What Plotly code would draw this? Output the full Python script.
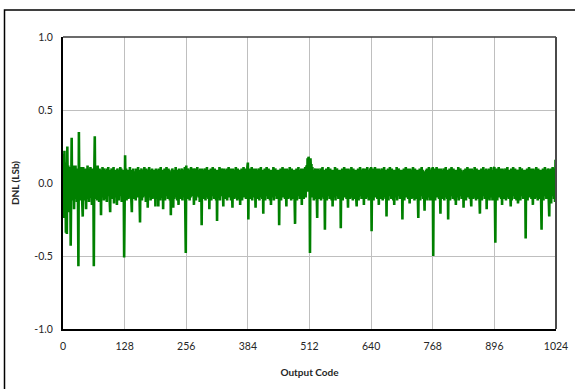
import plotly.graph_objects as go

# DNL values (LSb) per output code, in 128-code segments
dnl_000_127 = [
    -0.05, 0.20, -0.24, 0.22, -0.12, 0.09, -0.34, 0.14, -0.35, 0.25, -0.10, 0.12, -0.20, 0.08, -0.14, 0.11,
    -0.43, 0.10, 0.31, -0.12, 0.07, -0.09, 0.12, -0.18, 0.05, -0.11, 0.12, -0.08, 0.10, -0.13, 0.06, -0.07,
    -0.57, 0.35, -0.10, 0.09, -0.12, 0.11, -0.06, 0.10, -0.14, -0.23, 0.11, -0.09, 0.08, -0.12, 0.10, -0.05,
    -0.18, 0.09, -0.11, 0.12, -0.07, 0.10, -0.13, 0.06, -0.10, 0.11, -0.08, 0.09, -0.15, 0.10, -0.06, 0.08,
    -0.57, 0.07, 0.32, -0.11, 0.10, -0.08, 0.09, -0.12, 0.12, -0.06, 0.08, -0.13, 0.10, -0.09, 0.07, -0.22,
    0.09, -0.10, 0.11, -0.07, 0.08, -0.12, 0.10, -0.05, 0.09, -0.11, 0.07, -0.13, 0.10, -0.08, 0.11, -0.09,
    0.06, -0.12, -0.20, 0.09, -0.07, 0.10, -0.11, 0.08, -0.09, 0.11, -0.14, 0.07, -0.08, 0.09, -0.10, 0.08,
    -0.15, 0.10, -0.07, 0.09, -0.12, 0.08, -0.09, 0.11, -0.06, 0.10, -0.13, 0.07, -0.10, 0.09, 0.05, -0.51,
]
dnl_128_255 = [
    0.08, 0.19, -0.09, 0.10, -0.12, 0.07, -0.08, 0.09, -0.11, 0.06, -0.10, 0.11, -0.07, 0.08, -0.12, -0.20,
    0.09, -0.08, 0.10, -0.11, 0.07, -0.09, 0.08, -0.12, 0.10, -0.06, 0.09, -0.10, 0.11, -0.08, 0.07, -0.11,
    -0.27, 0.09, -0.07, 0.10, -0.12, 0.08, -0.10, 0.09, -0.06, 0.11, -0.09, 0.07, -0.13, 0.10, -0.08, 0.09,
    -0.17, 0.08, -0.10, 0.11, -0.07, 0.09, -0.12, 0.06, -0.09, 0.10, -0.11, 0.08, -0.06, 0.09, -0.10, 0.07,
    -0.16, 0.10, -0.08, 0.09, -0.11, 0.07, -0.16, 0.10, -0.09, 0.08, -0.12, 0.11, -0.07, 0.09, -0.10, 0.06,
    -0.18, 0.09, -0.08, 0.10, -0.12, 0.07, -0.09, 0.11, -0.06, 0.08, -0.11, 0.10, -0.08, 0.09, -0.12, 0.07,
    -0.22, 0.08, -0.09, 0.10, -0.07, -0.17, 0.09, -0.11, 0.08, -0.10, 0.11, -0.06, 0.09, -0.12, 0.07, -0.08,
    -0.15, 0.10, -0.09, 0.08, -0.11, 0.09, -0.07, 0.10, -0.12, 0.08, -0.10, 0.09, -0.06, 0.11, -0.09, -0.48,
]
dnl_256_383 = [
    0.12, -0.08, 0.09, -0.11, 0.10, -0.07, 0.08, -0.12, 0.09, -0.10, 0.11, -0.06, 0.08, -0.09, 0.10, -0.11,
    -0.15, 0.09, -0.07, 0.10, -0.12, 0.08, -0.09, 0.11, -0.06, 0.09, -0.10, 0.08, -0.13, 0.10, -0.08, 0.07,
    -0.29, 0.10, -0.09, 0.08, -0.11, 0.09, -0.07, 0.10, -0.12, 0.08, -0.10, 0.11, -0.06, 0.09, -0.11, 0.08,
    -0.18, 0.09, -0.08, 0.10, -0.12, 0.07, -0.09, 0.11, -0.07, 0.08, -0.11, 0.10, -0.09, 0.07, -0.12, 0.09,
    -0.26, 0.08, -0.10, 0.09, -0.07, 0.11, -0.12, 0.08, -0.09, 0.10, -0.06, 0.09, -0.11, -0.16, 0.10, -0.08,
    0.09, -0.11, 0.07, -0.09, 0.10, -0.12, 0.08, -0.07, 0.11, -0.10, 0.09, -0.08, 0.10, -0.12, 0.07, -0.09,
    -0.17, 0.10, -0.08, 0.09, -0.11, 0.07, -0.10, 0.11, -0.06, 0.08, -0.12, 0.10, -0.09, 0.07, -0.11, 0.09,
    -0.15, 0.08, -0.09, 0.10, -0.12, 0.07, -0.08, 0.11, -0.10, 0.09, -0.07, 0.10, -0.11, 0.08, -0.09, 0.11,
]
dnl_384_511 = [
    0.14, -0.25, 0.09, -0.08, 0.10, -0.11, 0.07, -0.09, 0.11, -0.12, 0.08, -0.07, 0.10, -0.10, 0.09, -0.08,
    -0.17, 0.10, -0.09, 0.08, -0.11, 0.09, -0.07, 0.10, -0.12, 0.08, -0.10, 0.11, -0.06, 0.09, -0.11, 0.07,
    -0.21, 0.09, -0.08, 0.10, -0.12, 0.07, -0.09, 0.11, -0.07, 0.08, -0.11, 0.10, -0.09, 0.07, -0.12, 0.09,
    -0.15, 0.08, -0.10, 0.09, -0.07, 0.11, -0.12, 0.08, -0.09, 0.10, -0.06, 0.09, -0.11, 0.08, -0.10, 0.07,
    0.09, -0.29, 0.08, -0.09, 0.10, -0.12, 0.07, -0.08, 0.11, -0.10, 0.09, -0.07, 0.10, -0.11, 0.08, -0.09,
    -0.16, 0.10, -0.08, 0.09, -0.11, 0.07, -0.10, 0.11, -0.06, 0.08, -0.12, 0.10, -0.09, 0.07, -0.11, 0.09,
    0.07, -0.10, -0.28, 0.09, -0.08, 0.10, -0.12, 0.08, -0.09, 0.11, -0.07, 0.09, -0.11, 0.08, -0.10, 0.10,
    -0.15, 0.09, -0.08, 0.10, -0.11, 0.07, -0.09, 0.11, -0.10, 0.08, 0.12, -0.06, 0.17, 0.10, 0.18, 0.15,
]
dnl_512_639 = [
    0.16, -0.48, 0.17, 0.09, 0.13, -0.08, 0.11, -0.10, 0.09, -0.12, 0.08, -0.07, 0.10, -0.11, 0.09, -0.08,
    -0.24, 0.10, -0.09, 0.08, -0.11, 0.09, -0.07, 0.10, -0.12, 0.08, -0.10, 0.11, -0.06, 0.09, -0.11, 0.07,
    -0.32, 0.09, -0.08, 0.10, -0.12, 0.07, -0.09, 0.11, -0.07, 0.08, -0.11, 0.10, -0.09, 0.07, -0.12, 0.09,
    -0.16, 0.08, -0.10, 0.09, -0.07, 0.11, -0.12, 0.08, -0.09, 0.10, -0.06, 0.09, -0.11, 0.08, -0.10, 0.07,
    0.09, -0.31, 0.08, -0.09, 0.10, -0.12, 0.07, -0.08, 0.11, -0.10, 0.09, -0.07, 0.10, -0.11, 0.08, -0.09,
    -0.17, 0.10, -0.08, 0.09, -0.11, 0.07, -0.10, 0.11, -0.06, 0.08, -0.12, 0.10, -0.09, 0.07, -0.11, 0.09,
    0.07, -0.10, -0.16, 0.09, -0.08, 0.10, -0.12, 0.08, -0.09, 0.11, -0.07, 0.09, -0.11, 0.08, -0.10, 0.10,
    0.08, -0.15, 0.09, -0.08, 0.10, -0.11, 0.07, -0.09, 0.11, -0.10, 0.08, -0.12, 0.09, -0.07, 0.10, -0.09,
]
dnl_640_767 = [
    0.11, -0.33, 0.09, -0.08, 0.10, -0.12, 0.07, -0.09, 0.11, -0.10, 0.08, -0.07, 0.10, -0.11, 0.09, -0.08,
    -0.15, 0.10, -0.09, 0.08, -0.11, 0.09, -0.07, 0.10, -0.12, 0.08, -0.10, 0.11, -0.06, 0.09, -0.11, 0.07,
    -0.23, 0.09, -0.08, 0.10, -0.12, 0.07, -0.09, 0.11, -0.07, 0.08, -0.11, 0.10, -0.09, 0.07, -0.12, 0.09,
    -0.15, 0.08, -0.10, 0.09, -0.07, 0.11, -0.12, 0.08, -0.09, 0.10, -0.06, 0.09, -0.11, 0.08, -0.10, 0.07,
    0.09, -0.25, 0.08, -0.09, 0.10, -0.12, 0.07, -0.08, 0.11, -0.10, 0.09, -0.07, 0.10, -0.11, 0.08, -0.09,
    -0.14, 0.10, -0.08, 0.09, -0.11, 0.07, -0.10, 0.11, -0.06, 0.08, -0.12, 0.10, -0.09, 0.07, -0.11, 0.09,
    0.07, -0.10, -0.24, 0.09, -0.08, 0.10, -0.12, 0.08, -0.09, 0.11, -0.07, 0.09, -0.11, 0.08, -0.10, -0.19,
    0.08, -0.11, 0.09, -0.08, 0.10, -0.12, 0.07, -0.09, 0.11, -0.10, 0.08, -0.12, 0.09, -0.07, 0.10, -0.09,
]
dnl_768_895 = [
    0.11, -0.50, 0.09, -0.08, 0.10, -0.12, 0.07, -0.09, 0.11, -0.10, 0.08, -0.07, 0.10, -0.11, 0.09, -0.08,
    -0.21, 0.10, -0.09, 0.08, -0.11, 0.09, -0.07, 0.10, -0.12, 0.08, -0.10, 0.11, -0.06, 0.09, -0.11, 0.07,
    -0.25, 0.09, -0.08, 0.10, -0.12, 0.07, -0.09, 0.11, -0.07, 0.08, -0.11, 0.10, -0.09, 0.07, -0.12, 0.09,
    -0.15, 0.08, -0.10, 0.09, -0.07, 0.11, -0.12, 0.08, -0.09, 0.10, -0.06, 0.09, -0.11, 0.08, -0.10, 0.07,
    -0.17, 0.09, 0.08, -0.09, 0.10, -0.12, 0.07, -0.08, 0.11, -0.10, 0.09, -0.07, 0.10, -0.11, 0.08, -0.09,
    -0.16, 0.10, -0.08, 0.09, -0.11, 0.07, -0.10, 0.11, -0.06, 0.08, -0.12, 0.10, -0.09, 0.07, -0.11, 0.09,
    0.07, -0.10, -0.21, 0.09, -0.08, 0.10, -0.12, 0.08, -0.09, 0.11, -0.07, 0.09, -0.11, 0.08, -0.10, 0.10,
    -0.18, 0.08, -0.11, 0.09, -0.08, 0.10, -0.12, 0.07, -0.09, 0.11, -0.10, 0.08, -0.12, 0.09, -0.07, 0.10,
]
dnl_896_1024 = [
    0.11, -0.09, -0.41, 0.09, -0.08, 0.10, -0.12, 0.07, -0.09, 0.11, -0.10, 0.08, -0.07, 0.10, -0.11, 0.09,
    -0.15, 0.10, -0.09, 0.08, -0.11, 0.09, -0.07, 0.10, -0.12, 0.08, -0.10, 0.11, -0.06, 0.09, -0.11, 0.07,
    0.09, -0.08, -0.16, 0.10, -0.12, 0.07, -0.09, 0.11, -0.07, 0.08, -0.11, 0.10, -0.09, 0.07, -0.12, 0.09,
    0.08, -0.14, -0.10, 0.09, -0.07, 0.11, -0.12, 0.08, -0.09, 0.10, -0.06, 0.09, -0.11, 0.08, -0.10, 0.07,
    0.09, -0.38, 0.08, -0.09, 0.10, -0.12, 0.07, -0.08, 0.11, -0.10, 0.09, -0.07, 0.10, -0.11, 0.08, -0.09,
    -0.15, 0.10, -0.08, 0.09, -0.11, 0.07, -0.10, 0.11, -0.06, 0.08, -0.12, 0.10, -0.09, 0.07, -0.11, 0.09,
    0.07, -0.10, -0.32, 0.09, -0.08, 0.10, -0.12, 0.08, -0.09, 0.11, -0.07, 0.09, -0.11, 0.08, -0.10, 0.10,
    0.08, -0.12, -0.23, 0.09, -0.08, 0.10, -0.14, 0.08, -0.09, 0.11, -0.07, 0.09, -0.11, 0.10, -0.13, 0.16,
    -0.02,
]

x_tick_vals = [0, 128, 256, 384, 512, 640, 768, 896, 1024]
y_tick_vals = [-1.0, -0.5, 0.0, 0.5, 1.0]
y_tick_text = ["-1.0", "-0.5", "0.0", "0.5", "1.0"]

dnl = (dnl_000_127 + dnl_128_255 + dnl_256_383 + dnl_384_511 +
       dnl_512_639 + dnl_640_767 + dnl_768_895 + dnl_896_1024)
codes = list(range(len(dnl)))

FONT = "Lato, 'Open Sans', sans-serif"
TXT = "#262626"

fig = go.Figure()
fig.add_trace(go.Scatter(
    x=codes, y=dnl, mode="lines",
    line=dict(color="#008000", width=2.6),
    hoverinfo="skip", showlegend=False,
))

fig.update_layout(
    width=575, height=389,
    margin=dict(l=63, r=19, t=37, b=60, autoexpand=False),
    paper_bgcolor="white", plot_bgcolor="white",
    font=dict(family=FONT, size=10, color=TXT),
    showlegend=False,
    xaxis=dict(
        range=[0, 1024], tickvals=x_tick_vals, ticks="",
        showgrid=True, gridcolor="#bfbfbf", gridwidth=1,
        showline=True, linecolor="#000000", linewidth=2,
        zeroline=False, automargin=False, ticklabelstandoff=6,
        tickfont=dict(family=FONT, size=10.5, color=TXT),
        title=dict(text="<b>Output Code</b>", font=dict(family=FONT, size=10, color=TXT), standoff=18),
    ),
    yaxis=dict(
        range=[-1.0, 1.0], tickvals=y_tick_vals, ticktext=y_tick_text, ticks="",
        showgrid=True, gridcolor="#bfbfbf", gridwidth=1,
        showline=True, linecolor="#000000", linewidth=2,
        zeroline=False, automargin=False, ticklabelstandoff=6,
        tickfont=dict(family=FONT, size=10.5, color=TXT),
        title=dict(text="<b>DNL (LSb)</b>", font=dict(family=FONT, size=10, color=TXT), standoff=13),
    ),
    shapes=[
        # plot-area box top and right edges
        dict(type="line", xref="paper", yref="paper", x0=0, x1=1, y0=1, y1=1,
             line=dict(color="#3a3a3a", width=1.5)),
        dict(type="line", xref="paper", yref="paper", x0=1, x1=1, y0=0, y1=1,
             line=dict(color="#4a4a4a", width=2)),
        # outer chart frame
        dict(type="rect", xref="paper", yref="paper",
             x0=(4.5 - 63) / 493, x1=(580 - 63) / 493,
             y0=(329 - 395) / 292, y1=(329 - 10) / 292,
             line=dict(color="#000000", width=1.5), layer="above"),
    ],
)

fig.write_html(
    "out.html",
    config={"displayModeBar": False},
    post_script="document.body.style.margin='0px';document.body.style.padding='0px';",
)
